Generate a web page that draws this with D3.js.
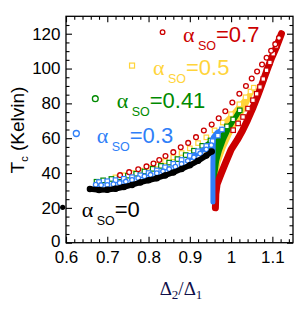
<!DOCTYPE html>
<html>
<head>
<meta charset="utf-8">
<script src="https://cdn.jsdelivr.net/npm/d3@7"></script>
<style>
  body { margin: 0; background: #fff; }
  svg { display: block; }
</style>
</head>
<body>
<svg id="chart" width="298" height="309"></svg>
<script>
// axis ticks
const xTicks = [0.6, 0.7, 0.8, 0.9, 1.0, 1.1];
const xTickLabels = ['0.6', '0.7', '0.8', '0.9', '1', '1.1'];
const yTicks = [0, 20, 40, 60, 80, 100, 120];
const yTickLabels = ['0', '20', '40', '60', '80', '100', '120'];

// alpha_so = 0 (black)
const a0X = [0.658, 0.68, 0.70, 0.72, 0.74, 0.76, 0.78, 0.80, 0.82, 0.84, 0.86, 0.88, 0.90, 0.92, 0.94, 0.953];
const a0Y = [30.8, 30.3, 30.4, 31.0, 32.0, 33.2, 34.6, 35.8, 37.0, 38.6, 40.3, 42.3, 44.5, 47.0, 50.0, 52.3];

// alpha_so = 0.3 (blue)
const a3UpX = [0.68, 0.70, 0.72, 0.74, 0.76, 0.78, 0.80, 0.82, 0.84, 0.86, 0.88, 0.90, 0.92, 0.94, 0.955, 0.968, 0.978];
const a3UpY = [34.8, 35.3, 35.9, 36.7, 37.6, 38.7, 40.0, 41.5, 43.3, 45.3, 47.5, 49.9, 52.5, 55.5, 58.3, 61.5, 65.0];
const a3LoX = [0.672, 0.685, 0.70, 0.715, 0.73, 0.745, 0.76, 0.775, 0.79, 0.805, 0.82, 0.835, 0.85, 0.865, 0.88, 0.895, 0.91, 0.925, 0.94, 0.952];
const a3LoY = [33.3, 33.1, 33.2, 33.6, 34.3, 35.1, 36.0, 37.1, 38.1, 39.0, 39.9, 41.0, 42.3, 43.6, 45.2, 47.0, 49.0, 51.2, 53.6, 56.0];
const a3TailX = [0.978, 0.966, 0.957, 0.956, 0.956];
const a3TailY = [65.0, 63.2, 60.5, 45.0, 23.3];

// alpha_so = 0.41 (green)
const a41UpX = [0.674, 0.69, 0.71, 0.73, 0.75, 0.77, 0.79, 0.81, 0.83, 0.85, 0.87, 0.89, 0.91, 0.93, 0.95, 0.97, 0.99, 1.005, 1.021];
const a41UpY = [35.0, 35.8, 36.6, 37.5, 38.5, 39.6, 40.9, 42.4, 44.1, 46.0, 48.0, 50.3, 52.8, 55.6, 58.7, 62.3, 66.8, 70.8, 76.0];
const a41TailX = [1.021, 1.008, 0.995, 0.982, 0.972, 0.965, 0.961, 0.9605];
const a41TailY = [76.0, 71.0, 66.0, 59.5, 53.0, 47.0, 40.0, 23.3];

// alpha_so = 0.5 (yellow)
const a5UpX = [0.72, 0.74, 0.76, 0.78, 0.80, 0.82, 0.84, 0.86, 0.88, 0.90, 0.92, 0.94, 0.96, 0.98, 1.0, 1.02, 1.035, 1.047, 1.055];
const a5UpY = [37.5, 38.7, 40.0, 41.4, 43.0, 44.8, 46.8, 49.0, 51.5, 54.2, 57.2, 60.5, 64.5, 69.0, 73.8, 79.5, 83.5, 86.8, 89.0];
const a5TailX = [1.055, 1.045, 1.03, 1.013, 0.997, 0.982, 0.97, 0.964, 0.961, 0.961];
const a5TailY = [89.0, 83.0, 76.0, 69.0, 62.0, 54.0, 46.0, 38.0, 30.0, 23.5];

// alpha_so = 0.7 (red)
const a7UpX = [0.731, 0.753, 0.775, 0.795, 0.812, 0.826, 0.841, 0.86, 0.878, 0.896, 0.915, 0.934, 0.953, 0.970, 0.986, 1.003, 1.02, 1.036, 1.05, 1.063, 1.075, 1.086, 1.097, 1.107, 1.116];
const a7UpY = [38.8, 40.5, 42.2, 43.8, 45.5, 47.5, 49.8, 52.0, 54.8, 57.3, 60.6, 64.4, 67.8, 71.5, 75.5, 80.5, 85.5, 90.0, 94.3, 98.3, 102.3, 106.2, 110.2, 114.0, 117.6];
const a7RowX = [1.005, 1.017, 1.029, 1.041, 1.053, 1.062, 1.07, 1.078, 1.086, 1.094, 1.102, 1.11];
const a7RowY = [64.6, 68.5, 72.2, 77.0, 81.8, 85.5, 89.4, 94.0, 99.0, 103.5, 108.5, 113.0];
const a7TailX = [1.122, 1.11, 1.098, 1.086, 1.074, 1.063, 1.052, 1.04, 1.028, 1.015, 1.0, 0.985, 0.974, 0.966, 0.963, 0.962];
const a7TailY = [120, 112.5, 106, 98.5, 90.5, 83.5, 77, 70.5, 64.5, 59, 53.5, 45, 38.5, 33.5, 28, 20];

// lone points (black, blue, green, yellow, red)
const loneX = [0.592, 0.625, 0.671, 0.76, 0.834];
const loneY = [20.3, 62.7, 82.7, 101.7, 120.9];

const labelValues = ['0', '0.3', '0.41', '0.5', '0.7'];

const colors = ['#000000', '#2f7ff8', '#008a00', '#ffd43a', '#cc0000'];

const svg = d3.select('#chart');
const x = d3.scaleLinear().domain([0.6, 1.15]).range([66, 293]);
const y = d3.scaleLinear().domain([0, 130]).range([242.7, 16.3]);

const zip = (xs, ys) => xs.map((v, i) => [v, ys[i]]);
const line = d3.line().x(d => x(d[0])).y(d => y(d[1]));

const plot = svg.append('g');

function band(xs, ys, color, w) {
	plot.append('path')
		.datum(zip(xs, ys))
		.attr('d', line)
		.attr('fill', 'none')
		.attr('stroke', color)
		.attr('stroke-width', w)
		.attr('stroke-linejoin', 'round')
		.attr('stroke-linecap', 'round');
}

function wedge(pts, color) {
	plot.append('path')
		.datum(pts)
		.attr('d', d => line(d) + 'Z')
		.attr('fill', color)
		.attr('stroke', color)
		.attr('stroke-width', 2)
		.attr('stroke-linejoin', 'round');
}

function circles(xs, ys, color, r, fill) {
	plot.append('g').selectAll('circle')
		.data(zip(xs, ys))
		.enter().append('circle')
		.attr('cx', d => x(d[0]))
		.attr('cy', d => y(d[1]))
		.attr('r', r)
		.attr('fill', fill)
		.attr('stroke', color)
		.attr('stroke-width', 1.3);
}

function squares(xs, ys, color, s) {
	plot.append('g').selectAll('rect')
		.data(zip(xs, ys))
		.enter().append('rect')
		.attr('x', d => x(d[0]) - s / 2)
		.attr('y', d => y(d[1]) - s / 2)
		.attr('width', s)
		.attr('height', s)
		.attr('fill', '#fff')
		.attr('stroke', color)
		.attr('stroke-width', 1.2);
}

// yellow
wedge(zip(a5UpX, a5UpY).slice(-6).concat(zip(a5TailX, a5TailY).slice(1, 5)), colors[3]);
band(a5TailX, a5TailY, colors[3], 3.5);
squares(a5UpX, a5UpY, colors[3], 4.5);

// green
wedge(zip(a41UpX, a41UpY).slice(-6).concat(zip(a41TailX, a41TailY).slice(1, 6)), colors[2]);
band(a41TailX, a41TailY, colors[2], 5);
squares(a41UpX, a41UpY, colors[2], 4.5);

// red
band(a7TailX, a7TailY, colors[4], 7);
squares(a7RowX, a7RowY, colors[4], 4.5);
circles(a7UpX, a7UpY, colors[4], 2.4, '#fff');

// blue
wedge(zip(a3UpX, a3UpY).slice(-6).concat(zip(a3TailX, a3TailY).slice(1, 3), zip(a3LoX, a3LoY).slice(-5).reverse()), colors[1]);
band(a3TailX, a3TailY, colors[1], 5);
squares(a3UpX, a3UpY, colors[1], 4.5);
circles(a3LoX, a3LoY, colors[1], 2.3, '#fff');

// black
band(a0X, a0Y, colors[0], 5.5);
circles(a0X, a0Y, colors[0], 2.6, colors[0]);

// lone points
plot.append('circle').attr('cx', x(loneX[0])).attr('cy', y(loneY[0])).attr('r', 2.6).attr('fill', colors[0]);
circles([loneX[1]], [loneY[1]], colors[1], 3, '#fff');
circles([loneX[2]], [loneY[2]], colors[2], 2.9, '#fff');
squares([loneX[3]], [loneY[3]], colors[3], 5);
circles([loneX[4]], [loneY[4]], colors[4], 2.3, '#fff');

// frame and ticks
const font = 'Arial, "Liberation Sans", sans-serif';
const minorX = d3.range(0.62, 1.15, 0.02).filter(v => xTicks.every(t => Math.abs(t - v) > 1e-6));
const minorY = d3.range(5, 130, 5).filter(v => v % 20 !== 0);

function axisGroup(axis, tx, ty) {
	const g = svg.append('g').attr('transform', `translate(${tx},${ty})`).call(axis);
	g.select('.domain').remove();
	g.selectAll('line').attr('stroke', '#000').attr('stroke-width', 1.1);
	return g;
}

const bottom = axisGroup(d3.axisBottom(x).tickValues(xTicks).tickSize(-6).tickSizeOuter(0).tickPadding(8)
	.tickFormat((d, i) => xTickLabels[i]), 0, y(0));
axisGroup(d3.axisBottom(x).tickValues(minorX).tickSize(-3.5).tickFormat(''), 0, y(0));
axisGroup(d3.axisTop(x).tickValues(xTicks).tickSize(-6).tickFormat(''), 0, y(130));
axisGroup(d3.axisTop(x).tickValues(minorX).tickSize(-3.5).tickFormat(''), 0, y(130));
const left = axisGroup(d3.axisLeft(y).tickValues(yTicks).tickSize(-6).tickSizeOuter(0).tickPadding(5.5)
	.tickFormat((d, i) => yTickLabels[i]), x(0.6), 0);
axisGroup(d3.axisLeft(y).tickValues(minorY).tickSize(-3.5).tickFormat(''), x(0.6), 0);
axisGroup(d3.axisRight(y).tickValues(yTicks).tickSize(-6).tickFormat(''), x(1.15), 0);
axisGroup(d3.axisRight(y).tickValues(minorY).tickSize(-3.5).tickFormat(''), x(1.15), 0);

[bottom, left].forEach(g => g.selectAll('text')
	.attr('fill', '#000')
	.style('font-family', font)
	.style('font-size', '17px'));
left.selectAll('text').filter((d, i) => i === 0).attr('dy', '0.22em');

svg.append('rect')
	.attr('x', x(0.6)).attr('y', y(130))
	.attr('width', x(1.15) - x(0.6)).attr('height', y(0) - y(130))
	.attr('fill', 'none').attr('stroke', '#000').attr('stroke-width', 1.3);

// axis titles
const yTitle = svg.append('text')
	.attr('transform', 'translate(23.5,130) rotate(-90)')
	.attr('text-anchor', 'middle')
	.style('font-family', font)
	.style('font-size', '19px')
	.attr('fill', '#000');
yTitle.append('tspan').text('T');
yTitle.append('tspan').attr('dy', 4).style('font-size', '11px').text('c');
yTitle.append('tspan').attr('dy', -4).text(' (Kelvin)');

const xTitle = svg.append('text')
	.attr('x', 181).attr('y', 295)
	.attr('text-anchor', 'middle')
	.style('font-family', '"Liberation Serif", "Times New Roman", serif')
	.style('font-size', '19px')
	.attr('fill', '#10104a');
xTitle.append('tspan').text('Δ');
xTitle.append('tspan').attr('dy', 4).style('font-size', '13px').text('2');
xTitle.append('tspan').attr('dy', -4).text('/Δ');
xTitle.append('tspan').attr('dy', 4).style('font-size', '13px').text('1');

// series labels
const labelPos = [[81.7, 216.7], [96.7, 143], [116.7, 108], [153, 75], [183, 42]];
labelValues.forEach((v, i) => {
	const [lx, ly] = labelPos[i];
	const t = svg.append('text').attr('y', ly).attr('fill', colors[i]).style('font-family', font);
	t.append('tspan').attr('x', lx)
		.style('font-family', '"Liberation Serif", "Times New Roman", serif')
		.style('font-size', '22px').text('α');
	t.append('tspan').attr('x', lx + 15).attr('dy', 8).style('font-size', '12.5px').text('SO');
	t.append('tspan').attr('x', lx + 33).attr('dy', -8).style('font-size', '22px').text('=' + v);
});
</script>
</body>
</html>
